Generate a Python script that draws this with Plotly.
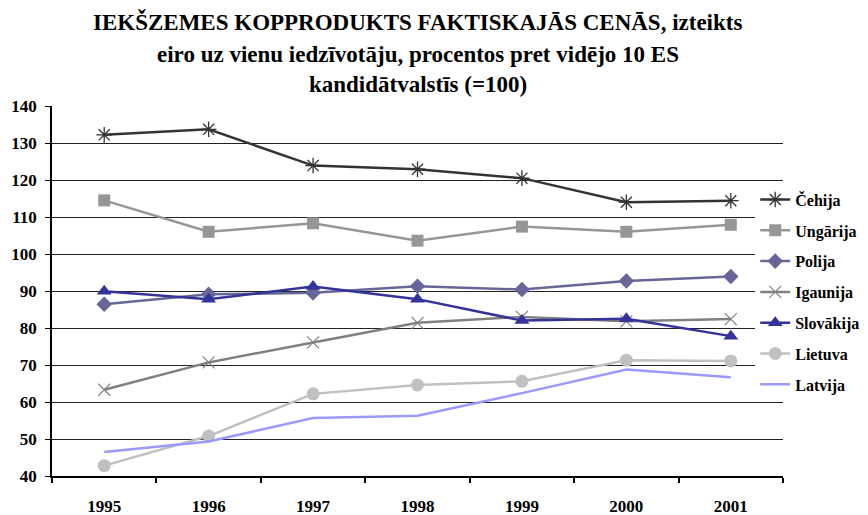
import plotly.graph_objects as go

years = ["1995", "1996", "1997", "1998", "1999", "2000", "2001"]
cehija = [132.2, 133.7, 123.9, 122.9, 120.5, 114.0, 114.4]
ungarija = [114.5, 106.0, 108.3, 103.6, 107.4, 106.0, 107.9]
polija = [86.4, 89.1, 89.5, 91.3, 90.4, 92.7, 93.9]
igaunija = [63.3, 70.7, 76.1, 81.4, 83.0, 81.8, 82.4]
slovakija = [89.9, 87.8, 91.2, 87.8, 82.0, 82.5, 77.8]
lietuva = [42.8, 50.8, 62.2, 64.6, 65.6, 71.3, 71.1]
latvija = [46.5, 49.3, 55.7, 56.3, 62.4, 68.8, 66.7]

title_lines = [
    "IEKŠZEMES KOPPRODUKTS FAKTISKAJĀS CENĀS, izteikts",
    "eiro uz vienu iedzīvotāju, procentos pret vidējo 10 ES",
    "kandidātvalstīs (=100)",
]

series = [
    ("Čehija", cehija, "#333333", dict(symbol="asterisk-open", size=13, line=dict(width=1.3, color="#333333"))),
    ("Ungārija", ungarija, "#969696", dict(symbol="square", size=12, color="#969696")),
    ("Polija", polija, "#666699", dict(symbol="diamond", size=12, color="#666699")),
    ("Igaunija", igaunija, "#808080", dict(symbol="x-thin-open", size=12, line=dict(width=1.2, color="#808080"))),
    ("Slovākija", slovakija, "#333399", dict(symbol="triangle-up", size=13, color="#333399")),
    ("Lietuva", lietuva, "#C0C0C0", dict(symbol="circle", size=13, color="#C0C0C0")),
    ("Latvija", latvija, "#9999FF", None),
]

fig = go.Figure()
for i, (name, vals, col, mk) in enumerate(series):
    fig.add_trace(go.Scatter(
        x=years, y=vals, name=name, legendgroup=f"g{i}",
        mode="lines+markers" if mk else "lines",
        line=dict(color=col, width=2.5),
        marker=mk if mk else None,
    ))

font = "Liberation Serif, Times New Roman, serif"
# page has an 8px body margin, so the figure is 8px smaller and everything is shifted by -8
PLOT_TOP, PLOT_BOT = 98, 468
title_centers = [14, 46, 77]
annotations = []
for line, py in zip(title_lines, title_centers):
    annotations.append(dict(
        text=line, xref="paper", yref="paper", x=0.5, xanchor="center",
        y=(PLOT_BOT - py) / (PLOT_BOT - PLOT_TOP), yanchor="middle",
        showarrow=False,
        font=dict(family=font, size=23, color="black", weight="bold"),
    ))

fig.update_layout(
    width=860, height=507,
    margin=dict(l=44, r=85, t=98, b=39, autoexpand=False),
    paper_bgcolor="white", plot_bgcolor="white",
    font=dict(family=font, size=17, color="black"),
    annotations=annotations,
    legend=dict(
        x=0.962, xanchor="left", y=0.497, yanchor="middle",
        bgcolor="white", traceorder="grouped", tracegroupgap=7,
        font=dict(family=font, size=16, color="black", weight="bold"),
        itemwidth=30,
    ),
    showlegend=True,
)
fig.update_xaxes(
    type="category", showgrid=False, showline=True, linecolor="black", linewidth=2,
    ticks="outside", tickson="boundaries", ticklen=5, tickcolor="black", tickwidth=1.5,
    tickfont=dict(family=font, size=17, color="black", weight="bold"),
    ticklabelstandoff=14,
    range=[-0.5, 6.5],
)
fig.update_yaxes(
    range=[40, 140], dtick=10, showgrid=True, gridcolor="#222222", gridwidth=1,
    showline=True, linecolor="black", linewidth=1.5,
    ticks="outside", ticklen=5, tickcolor="black",
    tickfont=dict(family=font, size=17, color="black", weight="bold"),
    ticklabelstandoff=5,
    zeroline=False,
)
fig.write_html("out.html")
